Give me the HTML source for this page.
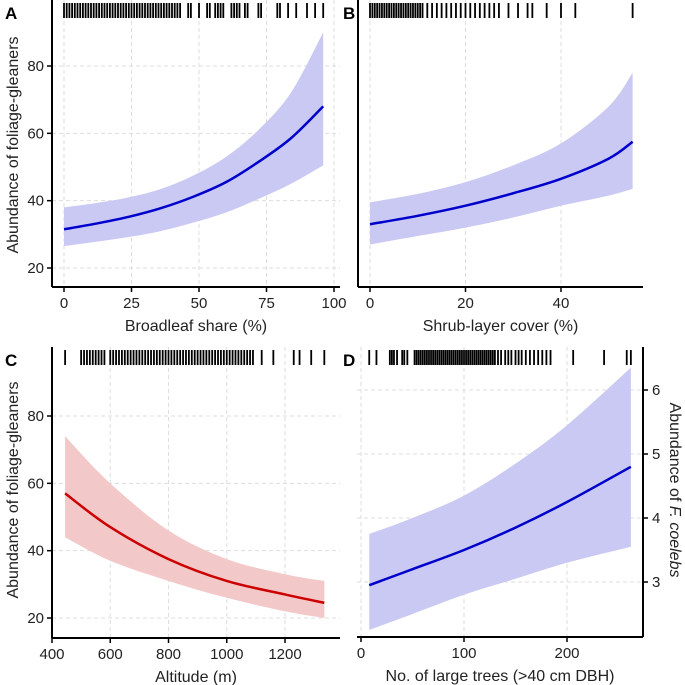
<!DOCTYPE html>
<html><head><meta charset="utf-8"><style>
body{margin:0;background:#fff}
svg{display:block;font-family:"Liberation Sans","DejaVu Sans",sans-serif}
</style></head><body>
<svg id="c" width="685" height="685" viewBox="0 0 685 685" xmlns="http://www.w3.org/2000/svg"></svg>
<script>
// Panel A data
const aX=[0,12,24,36,48,60,72,84,96];
const aFit=[31.5,33.2,35.2,37.8,41.2,45.5,51.5,58.5,68];
const aHi=[38,39.3,41,43.5,47.5,53,61,72,90];
const aLo=[26.5,27.8,29.2,31,33.5,36.5,40.5,45,50.5];
const aRug=[0,1,2,3,4,5,6,7,8,9,10,11,12,13,14,15,16,17,18,19,20,21,22,23,24,25,26,27,28,29,30,31,32,33,34,35,36,37,38,39,40,41,42,43,46,47,50,53,54,56,57,58,59,62,63,64,65,67,68,72,73,79,80,83,86,90,93,96];
const aXTicks=[0,25,50,75,100];
const aYTicks=[20,40,60,80];
// Panel B data
const bX=[0,10,20,30,40,50,55];
const bFit=[33,35.5,38.5,42.2,46.5,52.5,57.5];
const bHi=[39.5,42,45.5,50.5,57,68,78];
const bLo=[27,29.5,32,35,38.5,41.5,43.5];
const bRug=[0,0.5,1,1.5,2,2.5,3,3.5,4,4.5,5,5.5,6,6.5,7,7.5,8,8.5,9,9.5,10,10.5,11,12,13,14,15,16,17,18,19,20,21,22,23,24,25,26,27,29,31,33,34,37,40,43,55];
const bXTicks=[0,20,40];
const bYTicks=[20,40,60,80];
// Panel C data
const cX=[445,600,800,1000,1200,1335];
const cFit=[57,47,37.5,31,27,24.5];
const cHi=[74,60,46,37.5,33,31];
const cLo=[44,37,31,26,22,20];
const cRug=[445,500,510,520,530,540,550,560,570,580,600,610,620,630,640,650,660,670,680,690,700,710,720,730,740,750,760,770,780,790,800,810,820,830,840,850,860,870,880,890,900,910,920,930,940,950,960,970,980,990,1000,1010,1020,1030,1040,1050,1060,1070,1080,1090,1120,1160,1230,1250,1290,1335];
const cXTicks=[400,600,800,1000,1200];
const cYTicks=[20,40,60,80];
// Panel D data
const dX=[8,50,100,150,200,262];
const dFit=[2.95,3.2,3.5,3.85,4.25,4.8];
const dHi=[3.75,4,4.35,4.85,5.45,6.35];
const dLo=[2.25,2.5,2.8,3.05,3.3,3.55];
const dRug=[8,15,28,30,32,35,40,42,45,52,54,56,58,60,62,64,66,68,70,72,74,76,78,80,82,84,86,88,90,92,94,96,98,100,102,104,106,108,110,112,114,116,118,120,122,124,126,128,130,133,136,140,143,146,150,153,156,160,164,168,172,176,180,184,206,236,258,262];
const dXTicks=[0,100,200];
const dYTicks=[3,4,5,6];

const svg=document.getElementById('c');
const NS='http://www.w3.org/2000/svg';
function mk(tag,attrs,parent,name){const e=document.createElementNS(NS,tag);for(const k in attrs)e.setAttribute(k,attrs[k]);


(parent||svg).appendChild(e);return e;}
// Catmull-Rom smooth path through points
function smooth(pts,start){
  let d=(start?'M':'L')+pts[0][0]+','+pts[0][1];
  for(let i=0;i<pts.length-1;i++){
    const p0=pts[Math.max(0,i-1)],p1=pts[i],p2=pts[i+1],p3=pts[Math.min(pts.length-1,i+2)];
    const c1=[p1[0]+(p2[0]-p0[0])/6,p1[1]+(p2[1]-p0[1])/6];
    const c2=[p2[0]-(p3[0]-p1[0])/6,p2[1]-(p3[1]-p1[1])/6];
    d+='C'+c1[0]+','+c1[1]+' '+c2[0]+','+c2[1]+' '+p2[0]+','+p2[1];
  }
  return d;
}

function panel(p){
  const g=mk('g',{},svg,'panel-'+p.id);
  const sx=v=>p.x0+(v-p.xv0)*(p.x1-p.x0)/(p.xv1-p.xv0);
  const sy=v=>p.y0+(v-p.yv0)*(p.y1-p.y0)/(p.yv1-p.yv0);
  p.xt.forEach(t=>mk('line',{x1:sx(t),x2:sx(t),y1:p.top,y2:p.bot,stroke:'#ddd','stroke-dasharray':'4 3','stroke-width':1},g,'x-gridline'));
  p.yt.forEach(t=>mk('line',{x1:p.left,x2:p.right,y1:sy(t),y2:sy(t),stroke:'#ddd','stroke-dasharray':'4 3','stroke-width':1},g,'y-gridline'));
  const hi=p.xs.map((x,i)=>[sx(x),sy(p.hi[i])]);
  const lo=p.xs.map((x,i)=>[sx(x),sy(p.lo[i])]).reverse();
  mk('path',{d:smooth(hi,true)+smooth(lo,false)+'Z',fill:p.band},g,'confidence-band');
  const fit=p.xs.map((x,i)=>[sx(x),sy(p.fit[i])]);
  mk('path',{d:smooth(fit,true),fill:'none',stroke:p.col,'stroke-width':2.5,'stroke-linejoin':'round'},g,'fitted-line');
  p.rug.forEach(v=>mk('line',{x1:sx(v),x2:sx(v),y1:p.top+3,y2:p.top+18,stroke:'#000','stroke-width':1.8},g,'rug-tick'));
  mk('line',{x1:p.left,x2:p.right,y1:p.bot,y2:p.bot,stroke:'#000','stroke-width':2},g,'x-axis');
  const ax=p.rightAxis?p.right:p.left;
  mk('line',{x1:ax,x2:ax,y1:p.top,y2:p.bot,stroke:'#000','stroke-width':2},g,'y-axis');
  p.xt.forEach((t,i)=>{mk('line',{x1:sx(t),x2:sx(t),y1:p.bot,y2:p.bot+5,stroke:'#000','stroke-width':1.5},g,'x-tick');
    const tx=mk('text',{x:sx(t),y:p.bot+21,'text-anchor':'middle','font-size':15,fill:'#222'},g,'x-tick-label');tx.textContent=t;});
  p.yt.forEach(t=>{const d=p.rightAxis?5:-5;
    mk('line',{x1:ax,x2:ax+d,y1:sy(t),y2:sy(t),stroke:'#000','stroke-width':1.5},g,'y-tick');
    const tx=mk('text',{x:ax+(p.rightAxis?9:-8),y:sy(t)+5,'text-anchor':p.rightAxis?'start':'end','font-size':15,fill:'#222'},g,'y-tick-label');tx.textContent=t;});
  const xt=mk('text',{x:(p.left+p.right)/2,y:p.bot+44,'text-anchor':'middle','font-size':16,fill:'#222'},g,'x-axis-title');xt.textContent=p.xtitle;
  const lb=mk('text',{x:p.lx,y:p.top+19,'font-size':17,'font-weight':'bold',fill:'#000'},g,'panel-label');lb.textContent=p.id;
}
panel({id:'A',left:52,right:340,top:0,bot:287,x0:64,x1:334,xv0:0,xv1:100,y0:268,y1:66,yv0:20,yv1:80,xs:aX,fit:aFit,hi:aHi,lo:aLo,rug:aRug,xt:aXTicks,yt:aYTicks,col:'#0000cc',band:'#c9c9f3',xtitle:'Broadleaf share (%)',lx:5});
panel({id:'B',left:358,right:643,top:0,bot:287,x0:370,x1:561,xv0:0,xv1:40,y0:268,y1:66,yv0:20,yv1:80,xs:bX,fit:bFit,hi:bHi,lo:bLo,rug:bRug,xt:bXTicks,yt:[],col:'#0000cc',band:'#c9c9f3',xtitle:'Shrub-layer cover (%)',lx:343});
panel({id:'C',left:52,right:340,top:347,bot:638,x0:52,x1:285,xv0:400,xv1:1200,y0:618,y1:416,yv0:20,yv1:80,xs:cX,fit:cFit,hi:cHi,lo:cLo,rug:cRug,xt:cXTicks,yt:cYTicks,col:'#cc0000',band:'#f3c8c8',xtitle:'Altitude (m)',lx:5});
panel({id:'D',left:357,right:643,top:347,bot:637,x0:361,x1:567,xv0:0,xv1:200,y0:582,y1:390,yv0:3,yv1:6,xs:dX,fit:dFit,hi:dHi,lo:dLo,rug:dRug,xt:dXTicks,yt:dYTicks,col:'#0000cc',band:'#c9c9f3',xtitle:'No. of large trees (>40 cm DBH)',lx:343,rightAxis:true});
let t=mk('text',{x:0,y:0,transform:'translate(18,145) rotate(-90)','text-anchor':'middle','font-size':16,fill:'#222'},svg,'y-axis-title-a');t.textContent='Abundance of foliage-gleaners';
t=mk('text',{x:0,y:0,transform:'translate(18,490) rotate(-90)','text-anchor':'middle','font-size':16,fill:'#222'},svg,'y-axis-title-c');t.textContent='Abundance of foliage-gleaners';
t=mk('text',{x:0,y:0,transform:'translate(670,490) rotate(90)','text-anchor':'middle','font-size':16,fill:'#222'},svg,'y-axis-title-d');
t.innerHTML='Abundance of <tspan font-style="italic">F. coelebs</tspan>';
</script>
</body></html>
